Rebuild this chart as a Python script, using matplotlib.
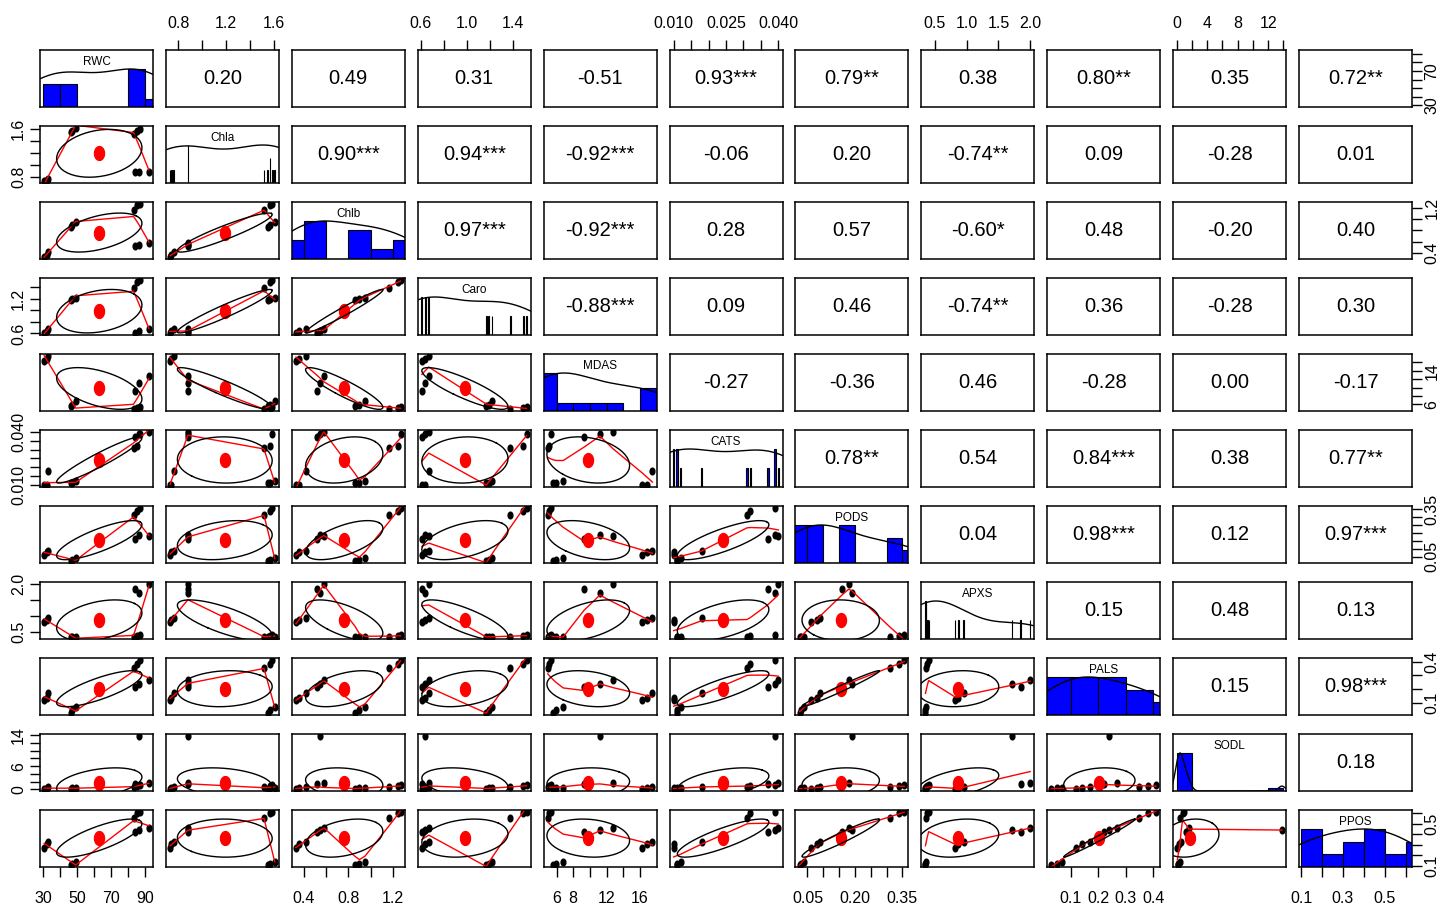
import numpy as np
import matplotlib
matplotlib.use('Agg')
import matplotlib.pyplot as plt
from matplotlib.path import Path

plt.rcParams['font.family'] = ['Liberation Sans Narrow', 'Liberation Sans', 'DejaVu Sans']

# %% data (12 samples)
names = ['RWC', 'Chla', 'Chlb', 'Caro', 'MDAS', 'CATS', 'PODS', 'APXS', 'PALS', 'SODL', 'PPOS']
rwc = [30.5, 32.0, 33.0, 46.0, 47.0, 49.0, 83.0, 85.0, 87.0, 84.0, 86.0, 92.0]
chla = [0.73, 0.74, 0.76, 1.55, 1.57, 1.61, 1.52, 1.57, 1.59, 0.88, 0.88, 0.88]
chlb = [0.33, 0.36, 0.42, 0.86, 0.90, 0.95, 1.17, 1.25, 1.27, 0.52, 0.55, 0.58]
caro = [0.61, 0.64, 0.67, 1.17, 1.19, 1.22, 1.38, 1.49, 1.52, 0.61, 0.64, 0.67]
mdas = [16.3, 16.9, 17.5, 5.6, 5.9, 6.8, 4.95, 5.1, 5.3, 9.3, 11.2, 12.8]
cats = [0.010, 0.010, 0.018, 0.011, 0.011, 0.012, 0.031, 0.032, 0.039, 0.037, 0.039, 0.040]
pods = [0.06, 0.08, 0.09, 0.025, 0.03, 0.04, 0.31, 0.34, 0.356, 0.16, 0.19, 0.18]
apxs = [0.82, 0.87, 0.95, 0.35, 0.35, 0.36, 0.36, 0.38, 0.40, 1.85, 1.72, 2.0]
pals = [0.12, 0.14, 0.17, 0.03, 0.05, 0.07, 0.35, 0.38, 0.41, 0.22, 0.24, 0.27]
sodl = [0.1, 0.3, 0.6, 0.15, 0.25, 0.4, 0.5, 0.8, 1.0, 1.3, 13.8, 1.6]
ppos = [0.27, 0.31, 0.33, 0.11, 0.12, 0.14, 0.55, 0.605, 0.61, 0.42, 0.44, 0.46]
data = [rwc, chla, chlb, caro, mdas, cats, pods, apxs, pals, sodl, ppos]

# correlation labels as printed in the upper panels (row by row)
cor_text = [
    ['0.20', '0.49', '0.31', '-0.51', '0.93***', '0.79**', '0.38', '0.80**', '0.35', '0.72**'],
    ['0.90***', '0.94***', '-0.92***', '-0.06', '0.20', '-0.74**', '0.09', '-0.28', '0.01'],
    ['0.97***', '-0.92***', '0.28', '0.57', '-0.60*', '0.48', '-0.20', '0.40'],
    ['-0.88***', '0.09', '0.46', '-0.74**', '0.36', '-0.28', '0.30'],
    ['-0.27', '-0.36', '0.46', '-0.28', '0.00', '-0.17'],
    ['0.78**', '0.54', '0.84***', '0.38', '0.77**'],
    ['0.04', '0.98***', '0.12', '0.97***'],
    ['0.15', '0.48', '0.13'],
    ['0.15', '0.98***'],
    ['0.18'],
]

# axis ticks: (positions, labels) for top/bottom axes and for left/right axes
x_ticks = {
    'RWC': ([30, 40, 50, 60, 70, 80, 90], ['30', '', '50', '', '70', '', '90']),
    'Chla': ([0.8, 1.0, 1.2, 1.4, 1.6], ['0.8', '', '1.2', '', '1.6']),
    'Chlb': ([0.4, 0.6, 0.8, 1.0, 1.2], ['0.4', '', '0.8', '', '1.2']),
    'Caro': ([0.6, 0.8, 1.0, 1.2, 1.4], ['0.6', '', '1.0', '', '1.4']),
    'MDAS': ([6, 8, 10, 12, 14, 16], ['6', '8', '', '12', '', '16']),
    'CATS': ([0.010, 0.015, 0.020, 0.025, 0.030, 0.035, 0.040],
             ['0.010', '', '', '0.025', '', '', '0.040']),
    'PODS': ([0.05, 0.10, 0.15, 0.20, 0.25, 0.30, 0.35],
             ['0.05', '', '', '0.20', '', '', '0.35']),
    'APXS': ([0.5, 1.0, 1.5, 2.0], ['0.5', '1.0', '1.5', '2.0']),
    'PALS': ([0.1, 0.2, 0.3, 0.4], ['0.1', '0.2', '0.3', '0.4']),
    'SODL': ([0, 2, 4, 6, 8, 10, 12, 14], ['0', '', '4', '', '8', '', '12', '']),
    'PPOS': ([0.1, 0.2, 0.3, 0.4, 0.5, 0.6], ['0.1', '', '0.3', '', '0.5', '']),
}
y_ticks = {
    'RWC': ([30, 40, 50, 60, 70, 80, 90], ['30', '', '', '', '70', '', '']),
    'Chla': ([0.8, 1.0, 1.2, 1.4, 1.6], ['0.8', '', '', '', '1.6']),
    'Chlb': ([0.4, 0.6, 0.8, 1.0, 1.2], ['0.4', '', '', '', '1.2']),
    'Caro': ([0.6, 0.8, 1.0, 1.2, 1.4], ['0.6', '', '', '1.2', '']),
    'MDAS': ([6, 8, 10, 12, 14, 16], ['6', '', '', '', '14', '']),
    'CATS': ([0.010, 0.015, 0.020, 0.025, 0.030, 0.035, 0.040],
             ['0.010', '', '', '', '', '', '0.040']),
    'PODS': ([0.05, 0.10, 0.15, 0.20, 0.25, 0.30, 0.35],
             ['0.05', '', '', '', '', '', '0.35']),
    'APXS': ([0.5, 1.0, 1.5, 2.0], ['0.5', '', '', '2.0']),
    'PALS': ([0.1, 0.2, 0.3, 0.4], ['0.1', '', '', '0.4']),
    'SODL': ([0, 2, 4, 6, 8, 10, 12, 14], ['0', '', '', '6', '', '', '', '14']),
    'PPOS': ([0.1, 0.2, 0.3, 0.4, 0.5, 0.6], ['0.1', '', '', '', '0.5', '']),
}

# narrow upright oval, like R's round points in the squeezed picture
_t = np.linspace(0, 2 * np.pi, 41)
oval = Path(np.column_stack([0.72 * np.cos(_t), np.sin(_t)]))


# %% helpers mimicking psych::pairs.panels
def pretty_breaks(x):
    lo, hi = np.min(x), np.max(x)
    ndiv = int(np.ceil(np.log2(len(x)) + 1))
    cell = (hi - lo) / ndiv
    h, h5 = 1.5, 0.5 + 1.5 * 1.5
    U = 10 ** np.floor(np.log10(cell))
    unit = U
    if 2 * U - cell < h * (cell - unit):
        unit = 2 * U
        if 5 * U - cell < h5 * (cell - unit):
            unit = 5 * U
            if 10 * U - cell < h * (cell - unit):
                unit = 10 * U
    ns = np.floor(lo / unit + 1e-10)
    nu = np.ceil(hi / unit - 1e-10)
    return np.arange(ns, nu + 1) * unit


def density(x):
    x = np.asarray(x, float)
    q25, q75 = np.percentile(x, [25, 75])
    bw = 1.06 * min(np.std(x, ddof=1), (q75 - q25) / 1.34) * len(x) ** -0.2 * 1.2
    grid = np.linspace(x.min() - 3 * bw, x.max() + 3 * bw, 512)
    d = np.exp(-0.5 * ((grid[:, None] - x[None, :]) / bw) ** 2).sum(1)
    return grid, d / d.max()


def lowest(x, y, xs, nleft, nright, rw, userw):
    n = len(x)
    rng = x[-1] - x[0]
    h = max(xs - x[nleft], x[nright] - xs)
    w = np.zeros(n)
    a = 0.0
    j = nleft
    while j < n:
        r = abs(x[j] - xs)
        if r <= 0.999 * h:
            w[j] = 1.0 if r <= 0.001 * h else (1 - (r / h) ** 3) ** 3
            if userw:
                w[j] *= rw[j]
            a += w[j]
        elif x[j] > xs:
            break
        j += 1
    nrt = j - 1
    if a <= 0:
        return 0.0, False
    sl = slice(nleft, nrt + 1)
    w[sl] /= a
    if h > 0:
        a = np.sum(w[sl] * x[sl])
        b = xs - a
        c = np.sum(w[sl] * (x[sl] - a) ** 2)
        if np.sqrt(c) > 0.001 * rng:
            b /= c
            w[sl] *= b * (x[sl] - a) + 1
    return np.sum(w[sl] * y[sl]), True


def lowess(x, y, f=2 / 3, iters=3):
    x = np.asarray(x, float)
    y = np.asarray(y, float)
    o = np.argsort(x, kind='stable')
    x, y = x[o], y[o]
    n = len(x)
    ns = max(min(int(f * n + 1e-7), n), 2)
    delta = 0.01 * (x[-1] - x[0])
    rw = np.ones(n)
    ys = np.zeros(n)
    for it in range(iters + 1):
        nleft, nright = 0, ns - 1
        last, i = -1, 0
        while True:
            if nright < n - 1:
                if x[i] - x[nleft] > x[nright + 1] - x[i]:
                    nleft += 1
                    nright += 1
                    continue
            ys[i], ok = lowest(x, y, x[i], nleft, nright, rw, it > 0)
            if not ok:
                ys[i] = y[i]
            if last < i - 1:
                denom = x[i] - x[last]
                for j in range(last + 1, i):
                    al = (x[j] - x[last]) / denom
                    ys[j] = al * ys[i] + (1 - al) * ys[last]
            last = i
            cut = x[last] + delta
            i = last + 1
            while i < n:
                if x[i] > cut:
                    break
                if x[i] == x[last]:
                    ys[i] = ys[last]
                    last = i
                i += 1
            i = max(last + 1, i - 1)
            if last >= n - 1:
                break
        res = y - ys
        if it >= iters:
            break
        cmad = 6 * np.median(np.abs(res))
        if cmad < 1e-7 * np.mean(np.abs(res)):
            break
        r = np.abs(res)
        rw = np.where(r <= 0.001 * cmad, 1.0,
                      np.where(r <= 0.999 * cmad, (1 - (r / cmad) ** 2) ** 2, 0.0))
    return x, ys


def usr(x):
    lo, hi = np.min(x), np.max(x)
    r = hi - lo
    return lo - 0.04 * r, hi + 0.04 * r


def hist_panel(ax, x, name):
    x = np.asarray(x, float)
    vals, counts = np.unique(x, return_counts=True)
    if len(vals) < 11:
        hgt = counts / counts.max()
        inter = np.min(np.diff(vals)) * (len(vals) - 1) / 41
        ax.bar(vals, hgt, width=2 * inter, color='#0000ff', edgecolor='black', lw=0.8)
    else:
        br = pretty_breaks(x)
        idx = np.clip(np.searchsorted(br, x, side='left') - 1, 0, len(br) - 2)
        cnt = np.bincount(idx, minlength=len(br) - 1)
        ax.bar(br[:-1], cnt / cnt.max(), width=np.diff(br), align='edge',
               color='#0000ff', edgecolor='black', lw=0.8)
    gx, gy = density(x)
    ax.plot(gx, gy, color='black', lw=1.0)
    ax.set_ylim(0, 1.5)
    ax.text(0.5, 0.79, name, transform=ax.transAxes, ha='center', va='center', fontsize=8.5)


def smooth_panel(ax, x, y):
    x = np.asarray(x, float)
    y = np.asarray(y, float)
    ax.plot(x, y, ls='none', marker=oval, color='black', ms=4.8, mec='black')
    lx, ly = lowess(x, y)
    ax.plot(lx, ly, color='red', lw=1.0)
    xm, ym = x.mean(), y.mean()
    xs, ysd = x.std(ddof=1), y.std(ddof=1)
    r = np.corrcoef(x, y)[0, 1]
    ang = np.arange(52) * 2 * np.pi / 51
    uc = np.column_stack([np.cos(ang), np.sin(ang)])
    th = np.sign(r) / np.sqrt(2) if abs(r) > 0 else 1 / np.sqrt(2)
    shape = np.diag([np.sqrt(1 + r), np.sqrt(1 - r)]) @ np.array([[th, th], [-th, th]])
    el = uc @ shape
    ax.plot(xm, ym, ls='none', marker=oval, color='red', ms=10, mec='red')
    ax.plot(el[:, 0] * xs + xm, el[:, 1] * ysd + ym, color='black', lw=1.0)


# %% figure
fig = plt.figure(figsize=(14.5, 9.05), dpi=100)
W, H = 1450, 905
nv = len(names)
pw, ph = 113, 57
axes = [[None] * nv for _ in range(nv)]

for i in range(nv):
    for j in range(nv):
        left = 40 + 125.9 * j
        top = 50 + 76 * i
        ax = fig.add_axes([left / W, 1 - (top + ph) / H, pw / W, ph / H])
        ax.set_xlim(*usr(data[j]))
        if i == j:
            hist_panel(ax, data[i], names[i])
        else:
            ax.set_ylim(*usr(data[i]))
            if i > j:
                smooth_panel(ax, data[j], data[i])
            else:
                ax.text(0.5, 0.5, cor_text[i][j - i - 1], transform=ax.transAxes,
                        ha='center', va='center', fontsize=14.5)
        ax.set_xticks([])
        ax.set_yticks([])
        for s in ax.spines.values():
            s.set_linewidth(1.1)
        axes[i][j] = ax

tick_kw = dict(direction='out', length=7, width=1.0, labelsize=11.5)

for j in range(nv):
    tv, tl = x_ticks[names[j]]
    if j % 2 == 1:
        ax = axes[0][j]
        ax.xaxis.set_ticks_position('top')
        ax.set_xticks(tv, tl)
        ax.tick_params(axis='x', top=True, labeltop=True, bottom=False, labelbottom=False,
                       pad=7, **tick_kw)
    else:
        ax = axes[nv - 1][j]
        ax.set_xticks(tv, tl)
        ax.tick_params(axis='x', pad=10, **tick_kw)

for i in range(nv):
    tv, tl = y_ticks[names[i]]
    if i % 2 == 1:
        ax = axes[i][0]
        ax.set_yticks(tv, tl)
        ax.tick_params(axis='y', pad=3, **tick_kw)
        for t in ax.get_yticklabels():
            t.set_rotation(90)
            t.set_va('center')
    else:
        ax = axes[i][nv - 1]
        if i == nv - 1:
            ax = ax.twinx()
            ax.set_ylim(*usr(data[i]))
            for s in ax.spines.values():
                s.set_visible(False)
        ax.yaxis.set_ticks_position('right')
        ax.set_yticks(tv, tl)
        ax.tick_params(axis='y', right=True, labelright=True, left=False, labelleft=False,
                       pad=2, **tick_kw)
        for t in ax.get_yticklabels():
            t.set_rotation(90)
            t.set_va('center')

fig.savefig('out.png', dpi=100, facecolor='white')
